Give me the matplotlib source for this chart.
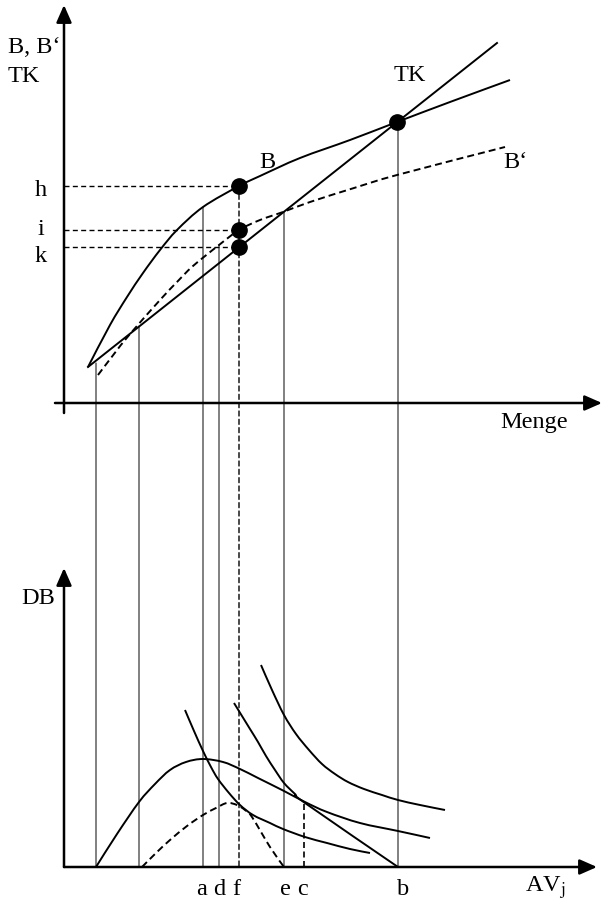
import matplotlib
matplotlib.use("Agg")
import matplotlib.pyplot as plt
from matplotlib.patches import ConnectionPatch, PathPatch
from matplotlib.path import Path

plt.rcParams['font.family'] = ['Liberation Serif', 'DejaVu Serif']
plt.rcParams['mathtext.fontset'] = 'stix'

# --- oberes Diagramm: Menge vs. B, B', TK ---
tk_x = [24, 433]
tk_y = [36, 360]

b_x = [24, 46, 63, 79, 96, 113, 139, 175, 196, 236, 286, 333, 386, 446]
b_y = [36, 78, 106, 130, 153, 173, 196, 217, 227, 245, 263, 281, 301, 323]

b2_x = [34, 50, 66, 96, 113, 129, 155, 175, 196, 219, 246, 290, 333, 441]
b2_y = [28, 49, 69, 103, 121, 137, 158, 173, 183, 191, 201, 215, 228, 256]

# Punkte bei f (h, i, k) und Schnittpunkt bei b
f_pos = 175
levels = [217, 173, 156]
level_names = ['h', 'i', 'k']
level_text_y = [207, 168, 141]
tk_point = (333, 281)

# senkrechte Verbindungslinien: x, Hoehe im oberen Diagramm
drop_x = [32, 75, 139, 155, 220, 334]
drop_y = [40, 77, 196, 158, 191, 281]

# --- unteres Diagramm: DB vs. AV_j ---
db_x = [32, 53, 75, 91, 106, 122, 139, 159, 176, 194, 220, 241, 263, 296, 334, 366]
db_y = [0, 33, 65, 83, 97, 105, 108, 105, 98, 89, 76, 65, 55, 44, 36, 29]

db2_x = [78, 92, 106, 123, 139, 152, 163, 173, 181, 188, 206, 220]
db2_y = [0, 14, 27, 41, 52, 59, 64, 62, 57, 50, 20, 0]

iso1_x = [121, 130, 139, 147, 154, 165, 176, 189, 206, 219, 241, 263, 286, 306]
iso1_y = [157, 136, 116, 100, 88, 74, 62, 52, 44, 38, 30, 24, 18, 14]

iso2_x = [170, 178, 186, 194, 202, 211, 220, 231, 241, 334]
iso2_y = [164, 151, 138, 125, 111, 97, 84, 73, 64, 0]

iso3_x = [197, 208, 220, 232, 245, 258, 271, 284, 300, 318, 334, 356, 381]
iso3_y = [202, 177, 152, 133, 117, 103, 93, 85, 78, 72, 67, 62, 57]

c_pos, c_top = 240, 64
tick_names = ['a', 'd', 'f', 'e', 'c', 'b']
tick_pos = [138, 155, 172, 221, 238, 339]

FS = 17.5


def smooth(xs, ys):
    pts = list(zip(xs, ys))
    verts = [pts[0]]
    codes = [Path.MOVETO]
    for j in range(len(pts) - 1):
        p0 = pts[j - 1] if j > 0 else pts[j]
        p1, p2 = pts[j], pts[j + 1]
        p3 = pts[j + 2] if j + 2 < len(pts) else p2
        c1 = (p1[0] + (p2[0] - p0[0]) / 6, p1[1] + (p2[1] - p0[1]) / 6)
        c2 = (p2[0] - (p3[0] - p1[0]) / 6, p2[1] - (p3[1] - p1[1]) / 6)
        verts += [c1, c2, p2]
        codes += [Path.CURVE4] * 3
    return Path(verts, codes)


def curve(ax, xs, ys, **kw):
    ax.add_patch(PathPatch(smooth(xs, ys), fill=False, edgecolor='black',
                           lw=1.4, capstyle='butt', **kw))


fig = plt.figure(figsize=(6.03, 9.02), dpi=100)
top = fig.add_axes([0, 452 / 902, 1, 450 / 902])
bot = fig.add_axes([0, 0, 1, 362 / 902])
for ax in (top, bot):
    ax.set_axis_off()
    ax.set_xlim(-64, 539)
top.set_ylim(-47, 403)
bot.set_ylim(-35, 327)

arrow = dict(arrowstyle='-|>,head_length=0.75,head_width=0.33', mutation_scale=14,
             lw=1.8, color='black', shrinkA=0, shrinkB=0)

# Achsen
top.annotate('', xy=(0, 398), xytext=(0, -10), arrowprops=arrow)
top.annotate('', xy=(538, 0), xytext=(-9, 0), arrowprops=arrow)
bot.annotate('', xy=(0, 299), xytext=(0, 0), arrowprops=arrow)
bot.annotate('', xy=(533, 0), xytext=(0, 0), arrowprops=arrow)

dash = (0, (3.6, 2.1))
thin_dash = (0, (3.6, 2.4))

# obere Kurven
top.plot(tk_x, tk_y, color='black', lw=1.4)
curve(top, b_x, b_y)
curve(top, b2_x, b2_y, linestyle=dash)

for name, lv, ty in zip(level_names, levels, level_text_y):
    top.plot([0, f_pos], [lv, lv], color='black', lw=1.0, linestyle=thin_dash)
    top.plot(f_pos, lv, 'o', color='black', markersize=11)
    top.text(-23, ty, name, ha='center', va='baseline', fontsize=FS)
top.plot(*tk_point, 'o', color='black', markersize=11)

top.text(-56, 350, 'B, B\u2018', ha='left', va='baseline', fontsize=FS)
top.text(-56, 321, 'TK', ha='left', va='baseline', fontsize=FS)
top.text(346, 322, 'TK', ha='center', va='baseline', fontsize=FS)
top.text(203, 235, 'B', ha='center', va='baseline', fontsize=FS)
top.text(439, 235, 'B\u2018', ha='left', va='baseline', fontsize=FS)
top.text(436, -25, 'Menge', ha='left', va='baseline', fontsize=FS)

# Verbindungslinien nach unten
for x, y in zip(drop_x, drop_y):
    fig.add_artist(ConnectionPatch(xyA=(x, y), coordsA=top.transData,
                                   xyB=(x, 0), coordsB=bot.transData,
                                   color='black', lw=0.7))
fig.add_artist(ConnectionPatch(xyA=(f_pos, levels[0]), coordsA=top.transData,
                               xyB=(f_pos, 0), coordsB=bot.transData,
                               color='black', lw=1.0, linestyle=thin_dash))

# untere Kurven
curve(bot, db_x, db_y)
curve(bot, db2_x, db2_y, linestyle=dash)
curve(bot, iso1_x, iso1_y)
curve(bot, iso2_x, iso2_y)
curve(bot, iso3_x, iso3_y)
bot.plot([c_pos, c_pos], [0, c_top], color='black', lw=1.2, linestyle=dash)

for name, x in zip(tick_names, tick_pos):
    bot.text(x, -28, name, ha='center', va='baseline', fontsize=FS)
bot.text(-26, 263, 'DB', ha='center', va='baseline', fontsize=FS)
bot.text(461, -25, r'AV$_{\mathrm{j}}$', ha='left', va='baseline', fontsize=FS)

fig.savefig('out.png', dpi=100)
